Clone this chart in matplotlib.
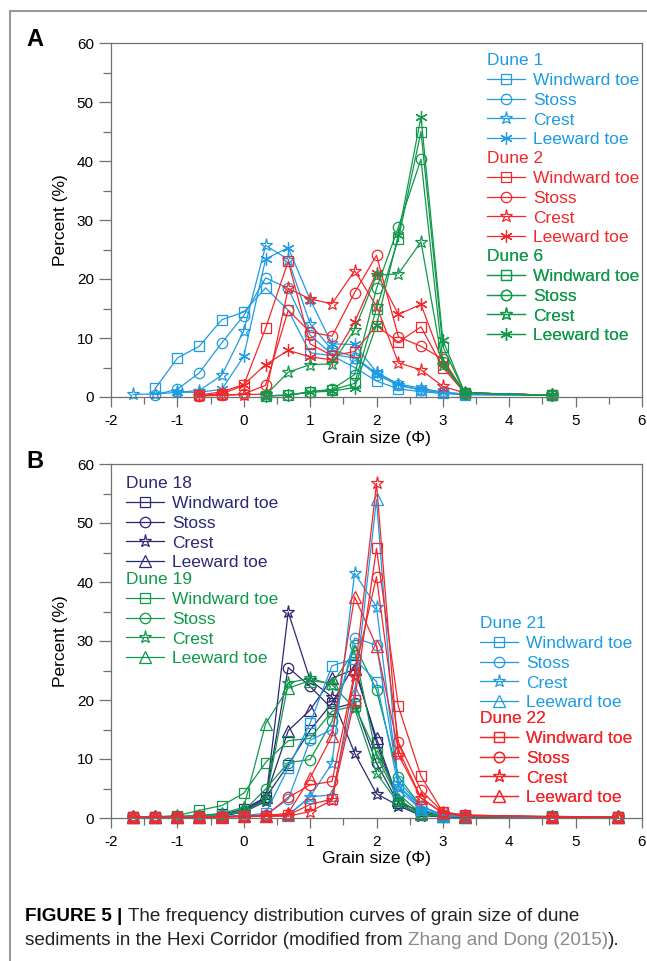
import numpy as np
import matplotlib
matplotlib.use('Agg')
import matplotlib.pyplot as plt
from matplotlib.lines import Line2D
from matplotlib.ticker import MultipleLocator

plt.rcParams['font.family'] = ['Liberation Sans', 'DejaVu Sans']
plt.rcParams['axes.unicode_minus'] = False

nan = np.nan

# grain size classes (phi)
phi_a = [-1.67, -1.33, -1.0, -0.67, -0.33, 0.0, 0.33, 0.67, 1.0, 1.33, 1.67,
         2.0, 2.33, 2.67, 3.0, 3.33, 4.64]
phi_b = phi_a + [5.64]

sites = ['Windward toe', 'Stoss', 'Crest', 'Leeward toe']

# Panel A - percent (%)
dune1 = [
    [nan, 1.5, 6.6, 8.6, 13.1, 14.4, 18.5, 14.7, 7.5, 7.0, 5.0, 2.7, 1.4, 0.9, 0.6, 0.4, 0.3],
    [nan, 0.4, 1.3, 4.1, 9.2, 13.8, 20.2, 18.4, 10.5, 7.2, 6.6, 3.8, 2.0, 1.2, 0.8, 0.5, 0.3],
    [0.45, 0.5, 0.8, 1.1, 3.7, 11.2, 25.7, 23.3, 12.4, 8.0, 6.8, 4.0, 2.0, 1.2, 0.7, 0.4, 0.3],
    [nan, nan, 0.8, 0.8, 1.3, 6.9, 23.4, 25.3, 16.5, 9.0, 8.9, 4.2, 2.2, 1.5, 0.8, 0.5, 0.3],
]
dune2 = [
    [nan, nan, nan, 0.3, 0.5, 2.0, 11.7, 23.0, 9.0, 7.0, 7.7, 12.1, 9.3, 11.9, 5.0, 0.7, 0.3],
    [nan, nan, nan, 0.2, 0.3, 0.5, 2.0, 14.7, 11.0, 10.3, 17.7, 24.0, 10.2, 8.6, 6.4, 0.7, 0.3],
    [nan, nan, nan, 0.2, 0.3, 0.4, 0.5, 18.4, 16.6, 15.8, 21.4, 15.4, 5.8, 4.6, 1.8, 0.7, 0.3],
    [nan, nan, nan, 0.3, 0.9, 2.1, 5.5, 7.9, 6.8, 6.3, 12.7, 21.1, 14.0, 15.7, 5.8, 0.7, 0.3],
]
dune6 = [
    [nan, nan, nan, nan, nan, nan, 0.2, 0.3, 0.9, 1.2, 2.3, 15.0, 26.8, 45.0, 8.5, 0.7, 0.3],
    [nan, nan, nan, nan, nan, nan, 0.2, 0.3, 0.9, 1.3, 3.8, 18.4, 28.8, 40.3, 6.0, 0.7, 0.3],
    [nan, nan, nan, nan, nan, nan, 0.3, 4.2, 5.5, 5.6, 11.4, 20.6, 20.9, 26.3, 5.5, 0.7, 0.3],
    [nan, nan, nan, nan, nan, nan, 0.2, 0.3, 0.8, 1.0, 1.6, 12.2, 27.5, 47.5, 9.6, 0.7, 0.3],
]

# Panel B - percent (%)
dune18 = [
    [0.1, 0.1, 0.2, 0.3, 0.6, 1.5, 3.5, 9.0, 14.9, 19.5, 26.0, 12.8, 2.5, 0.5, 0.3, 0.2, 0.1, 0.1],
    [0.1, 0.1, 0.1, 0.2, 0.4, 1.0, 3.2, 25.5, 22.3, 18.5, 19.5, 9.3, 2.5, 1.2, 0.3, 0.2, 0.1, 0.1],
    [0.1, 0.1, 0.1, 0.2, 0.4, 1.0, 2.8, 34.9, 23.4, 20.5, 11.0, 4.1, 2.1, 0.4, 0.2, 0.1, 0.1, 0.1],
    [0.1, 0.1, 0.1, 0.2, 0.5, 1.2, 3.5, 14.8, 18.3, 23.7, 25.2, 13.5, 3.0, 0.8, 0.3, 0.2, 0.1, 0.1],
]
dune19 = [
    [0.2, 0.2, 0.4, 1.3, 2.1, 4.2, 9.4, 13.1, 13.5, 18.1, 19.0, 11.0, 4.0, 0.8, 0.4, 0.3, 0.3, 0.1],
    [0.1, 0.1, 0.2, 0.3, 0.5, 1.2, 4.9, 9.4, 9.9, 16.4, 29.3, 21.7, 7.0, 2.0, 0.5, 0.3, 0.2, 0.1],
    [0.1, 0.1, 0.3, 0.3, 0.5, 1.0, 3.0, 22.9, 23.7, 22.6, 18.6, 7.6, 2.5, 0.5, 0.3, 0.2, 0.2, 0.1],
    [0.2, 0.2, 0.3, 0.4, 0.8, 1.8, 16.0, 22.0, 23.3, 22.8, 28.3, 10.5, 3.2, 0.6, 0.3, 0.2, 0.2, 0.1],
]
dune21 = [
    [0.1, 0.1, 0.1, 0.2, 0.3, 0.4, 0.8, 8.5, 16.1, 25.8, 27.0, 23.1, 5.4, 2.0, 0.5, 0.3, 0.2, 0.1],
    [0.1, 0.1, 0.1, 0.2, 0.3, 0.4, 0.5, 3.2, 13.2, 15.0, 30.5, 29.3, 6.2, 2.0, 0.5, 0.3, 0.2, 0.1],
    [0.1, 0.1, 0.1, 0.1, 0.2, 0.3, 0.3, 0.5, 3.6, 9.3, 41.5, 35.8, 5.5, 1.5, 0.4, 0.3, 0.2, 0.1],
    [0.1, 0.1, 0.1, 0.1, 0.2, 0.3, 0.3, 0.5, 3.6, 3.9, 21.2, 54.0, 4.8, 1.5, 0.4, 0.3, 0.2, 0.1],
]
dune22 = [
    [0.1, 0.1, 0.1, 0.1, 0.2, 0.3, 0.4, 0.5, 2.3, 3.2, 20.0, 45.7, 18.9, 7.1, 1.0, 0.5, 0.2, 0.1],
    [0.1, 0.1, 0.1, 0.1, 0.2, 0.3, 0.4, 3.5, 5.6, 6.2, 24.6, 40.9, 12.9, 4.7, 1.0, 0.5, 0.2, 0.1],
    [0.1, 0.1, 0.1, 0.1, 0.2, 0.2, 0.3, 0.3, 1.1, 3.0, 24.0, 56.7, 10.7, 3.4, 0.8, 0.4, 0.2, 0.1],
    [0.1, 0.1, 0.1, 0.1, 0.2, 0.3, 0.4, 0.8, 6.8, 13.9, 37.5, 29.1, 11.6, 3.4, 0.8, 0.4, 0.2, 0.1],
]

blue = '#1E9BE3'
red = '#F5262A'
green = '#10994A'
navy = '#2B2875'

markers_a = ['s', 'o', '*', (6, 2, 0)]
markers_b = ['s', 'o', '*', '^']
msizes = {'s': 7, 'o': 7.5, '*': 9.5, '^': 8}

W, H = 647, 961
fig = plt.figure(figsize=(W / 100, H / 100), dpi=100)


def px_axes(left, top, right, bottom):
    return fig.add_axes([left / W, 1 - bottom / H, (right - left) / W, (bottom - top) / H])


def style_axes(ax):
    ax.set_xlim(-2, 6)
    ax.set_ylim(0, 60)
    ax.xaxis.set_major_locator(MultipleLocator(1))
    ax.xaxis.set_minor_locator(MultipleLocator(0.5))
    ax.yaxis.set_major_locator(MultipleLocator(10))
    ax.yaxis.set_minor_locator(MultipleLocator(5))
    for s in ax.spines.values():
        s.set_color('#707070')
        s.set_linewidth(0.9)
    ax.tick_params(axis='both', which='both', direction='out', color='#707070',
                   width=0.9, labelsize=11, top=False, right=False)
    ax.tick_params(axis='y', which='major', length=8.4, pad=4)
    ax.tick_params(axis='y', which='minor', length=6)
    ax.tick_params(axis='x', which='major', length=7, pad=5)
    ax.tick_params(axis='x', which='minor', length=5)
    ax.set_ylabel('Percent (%)', fontsize=12.5)
    ax.yaxis.label.set_ha('center')
    ax.yaxis.label.set_va('center')
    ax.yaxis.set_label_coords((60 - 111) / 531, 0.5)
    ax.set_xlabel('Grain size (\u03a6)', fontsize=12.5)
    ax.xaxis.label.set_va('center')
    ax.xaxis.set_label_coords(0.5, -41 / 354)


def plot_dune(ax, x, data, color, markers):
    lines = []
    for vals, m in zip(data, markers):
        ms = msizes.get(m, 9)
        ln, = ax.plot(x, vals, color=color, lw=0.9, marker=m, ms=ms,
                      mfc='none', mec=color, mew=0.9, clip_on=False)
        lines.append(ln)
    return lines


def add_legend(ax, lines, title, color, anchor):
    leg = ax.legend(lines, sites, title=title, loc='upper left', bbox_to_anchor=anchor,
                    frameon=False, fontsize=12.5, title_fontsize=12.5, labelcolor=color,
                    handlelength=2.2, handletextpad=0.45, labelspacing=0.27,
                    borderaxespad=0, borderpad=0, alignment='left')
    leg.get_title().set_color(color)
    ax.add_artist(leg)


# Panel A
axA = px_axes(111, 43, 642, 397)
style_axes(axA)
l1 = plot_dune(axA, phi_a, dune1, blue, markers_a)
l2 = plot_dune(axA, phi_a, dune2, red, markers_a)
l6 = plot_dune(axA, phi_a, dune6, green, markers_a)
add_legend(axA, l1, 'Dune 1', blue, ((487 - 111) / 531, (397 - 53) / 354))
add_legend(axA, l2, 'Dune 2', red, ((487 - 111) / 531, (397 - 151) / 354))
add_legend(axA, l6, 'Dune 6', green, ((487 - 111) / 531, (397 - 249) / 354))

# Panel B
axB = px_axes(111, 464, 642, 818)
style_axes(axB)
l18 = plot_dune(axB, phi_b, dune18, navy, markers_b)
l19 = plot_dune(axB, phi_b, dune19, green, markers_b)
l21 = plot_dune(axB, phi_b, dune21, blue, markers_b)
l22 = plot_dune(axB, phi_b, dune22, red, markers_b)
add_legend(axB, l18, 'Dune 18', navy, ((126 - 111) / 531, (818 - 476) / 354))
add_legend(axB, l19, 'Dune 19', green, ((126 - 111) / 531, (818 - 572) / 354))
add_legend(axB, l21, 'Dune 21', blue, ((480 - 111) / 531, (818 - 616) / 354))
add_legend(axB, l22, 'Dune 22', red, ((480 - 111) / 531, (818 - 711) / 354))

# panel letters
fig.text(26 / W, 1 - 40 / H, 'A', fontsize=17, fontweight='bold', va='center')
fig.text(26 / W, 1 - 462 / H, 'B', fontsize=17, fontweight='bold', va='center')

# page frame
fig.add_artist(Line2D([10 / W, 1], [1 - 11 / H, 1 - 11 / H], color='#9a9a9a', lw=1.5))
fig.add_artist(Line2D([10 / W, 10 / W], [0, 1 - 11 / H], color='#9a9a9a', lw=1.5))

# caption, pieces laid out left to right
renderer = fig.canvas.get_renderer()


def caption_line(pieces, y, size):
    x = 25
    for txt, weight, color in pieces:
        t = fig.text(x / W, 1 - y / H, txt, fontsize=size, fontweight=weight,
                     color=color, va='baseline', ha='left')
        bb = t.get_window_extent(renderer=renderer)
        x += bb.width


cap_size = 13.6
caption_line([('FIGURE 5 | ', 'bold', 'black'),
              ('The frequency distribution curves of grain size of dune', 'normal', '#222222')],
             921, cap_size)
caption_line([('sediments in the Hexi Corridor (modified from ', 'normal', '#222222'),
              ('Zhang and Dong (2015)', 'normal', '#8a8a8a'),
              (').', 'normal', '#222222')],
             945, cap_size)

fig.savefig('out.png', dpi=100)
